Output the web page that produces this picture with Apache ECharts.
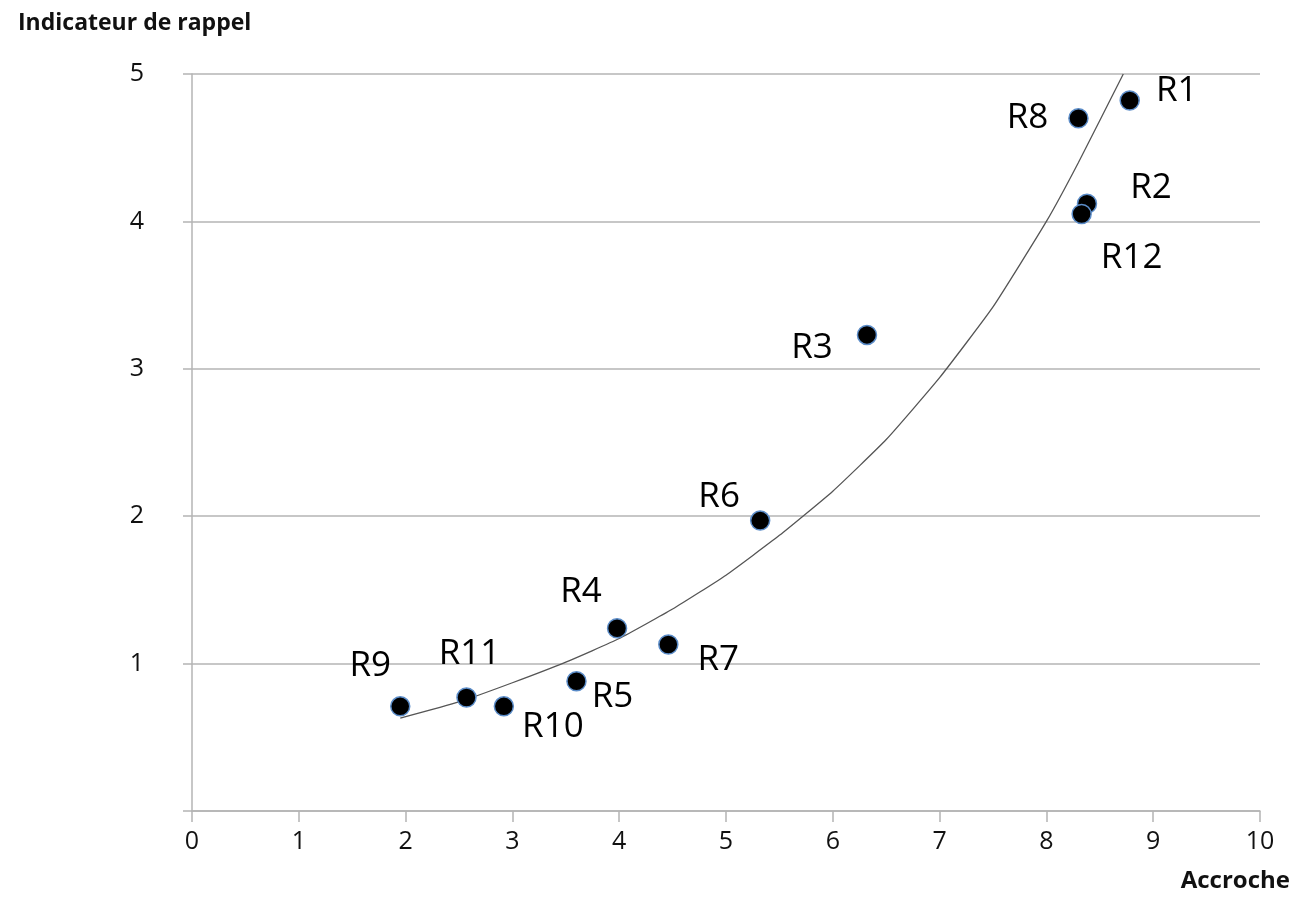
<!DOCTYPE html>
<html>
<head>
<meta charset="utf-8">
<script src="https://cdn.jsdelivr.net/npm/echarts@6/dist/echarts.min.js"></script>
<style>
html, body { margin: 0; padding: 0; background: #ffffff; }
#chart { width: 1304px; height: 922px; }
</style>
</head>
<body>
<div id="chart"></div>
<script>
// points (Accroche, Indicateur de rappel)
var names = ["R1", "R8", "R2", "R12", "R3", "R6", "R4", "R7", "R5", "R11", "R10", "R9"];
var accroche = [8.78, 8.30, 8.38, 8.33, 6.32, 5.32, 3.98, 4.46, 3.60, 2.57, 2.92, 1.95];
var rappel = [4.82, 4.70, 4.12, 4.05, 3.23, 1.97, 1.24, 1.13, 0.88, 0.77, 0.71, 0.71];

// trend curve
var trendX = [1.95, 2.5, 3.0, 3.5, 4.0, 4.5, 5.0, 5.5, 6.0, 6.5, 7.0, 7.5, 8.0, 8.3, 8.72];
var trendY = [0.63, 0.74, 0.87, 1.01, 1.17, 1.37, 1.6, 1.87, 2.17, 2.52, 2.94, 3.42, 4.0, 4.4, 5.0];

var xTicks = [0, 1, 2, 3, 4, 5, 6, 7, 8, 9, 10];

// label placement around each dot (px)
var labelOffset = {
  R1: [47, -10], R8: [-51, 0], R2: [64, -16], R12: [50, 44],
  R3: [-55, 13], R6: [-41, -24], R4: [-36, -36], R7: [50, 16],
  R5: [36, 16], R11: [3, -43], R10: [49, 21], R9: [-30, -40]
};

var font = "'Open Sans', 'Noto Sans', sans-serif";
var axisGray = "#b4b4b4";

var points = names.map(function (n, i) {
  return {
    name: n,
    value: [accroche[i], rappel[i]],
    label: { offset: labelOffset[n] }
  };
});
var trend = trendX.map(function (x, i) { return [x, trendY[i]]; });

var chart = echarts.init(document.getElementById("chart"));
chart.setOption({
  backgroundColor: "#ffffff",
  animation: false,
  title: [
    {
      text: "Indicateur de rappel",
      left: 13, top: 7,
      textStyle: { fontFamily: font, fontSize: 23, fontWeight: "bold", color: "#111" }
    },
    {
      text: "Accroche",
      right: 9, top: 864,
      textStyle: { fontFamily: font, fontSize: 24, fontWeight: "bold", color: "#111" }
    }
  ],
  grid: { left: 192, right: 44, top: 74, bottom: 111 },
  xAxis: {
    type: "value",
    min: xTicks[0],
    max: xTicks[xTicks.length - 1],
    interval: 1,
    axisLine: { show: true, onZero: false, lineStyle: { color: axisGray, width: 1.5 } },
    axisTick: { show: true, length: 11, lineStyle: { color: axisGray, width: 1.5 } },
    splitLine: { show: false },
    axisLabel: { fontFamily: font, fontSize: 25, color: "#111", margin: 18 }
  },
  yAxis: {
    type: "value",
    min: 0,
    max: 5,
    interval: 1,
    axisLine: { show: true, onZero: false, lineStyle: { color: axisGray, width: 1.5 } },
    axisTick: { show: true, length: 9, lineStyle: { color: axisGray, width: 1.5 } },
    splitLine: { show: true, lineStyle: { color: axisGray, width: 1.5 } },
    axisLabel: {
      fontFamily: font, fontSize: 25, color: "#111", margin: 48,
      formatter: function (v) { return v === 0 ? "" : String(v); }
    }
  },
  series: [
    {
      type: "line",
      data: trend,
      smooth: 0.15,
      showSymbol: false,
      silent: true,
      lineStyle: { color: "#555555", width: 1.3 },
      z: 2
    },
    {
      type: "scatter",
      data: points,
      symbolSize: 19,
      itemStyle: { color: "#000000", opacity: 1, borderColor: "#5b8cc8", borderWidth: 1.5 },
      label: {
        show: true,
        position: "inside",
        formatter: "{b}",
        fontFamily: font,
        fontSize: 35,
        color: "#000000",
        align: "center",
        verticalAlign: "middle"
      },
      z: 3
    }
  ]
});
</script>
</body>
</html>
